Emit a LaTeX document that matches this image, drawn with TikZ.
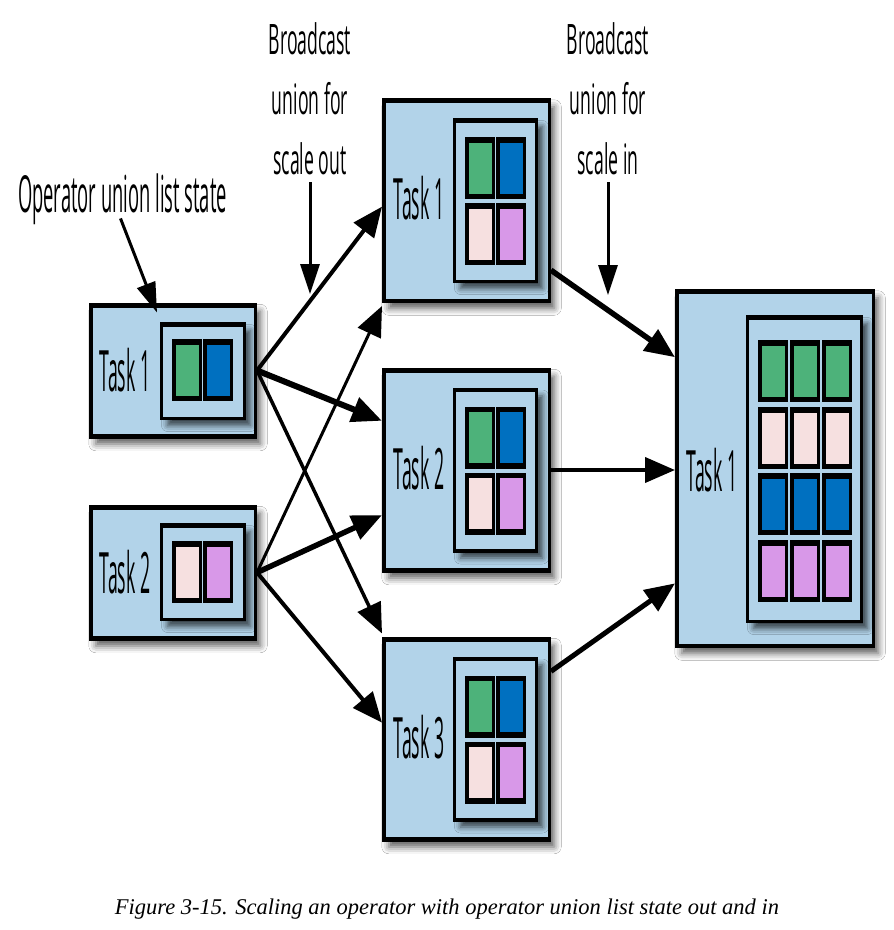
\documentclass[tikz,border=0pt]{standalone}
\usepackage{fontspec}
\usetikzlibrary{arrows.meta,calc,shadows.blur}
\setmainfont{Liberation Serif}
\newfontfamily\taskfont[FakeStretch=0.31]{Open Sans}
\newfontfamily\opsfont[FakeStretch=0.36]{Open Sans}
\newfontfamily\notefont[FakeStretch=0.42]{Open Sans}

\definecolor{boxblue}{RGB}{178,211,233}
\definecolor{stgreen}{RGB}{77,178,122}
\definecolor{stblue}{RGB}{0,112,192}
\definecolor{stpink}{RGB}{246,224,224}
\definecolor{stviolet}{RGB}{216,152,232}

% one state entry: black frame with a coloured face
\newcommand{\statecell}[3]{%
  \fill[black] (#1,#2) rectangle ++(30,62);
  \fill[#3] ($(#1,#2)+(3.5,5.5)$) rectangle ++(23,51);
}

\tikzset{
  taskbox/.style={draw=black, line width=3.5pt, fill=boxblue, inner sep=0pt,
    blur shadow={shadow xshift=5pt, shadow yshift=-7pt, shadow blur radius=7pt, shadow opacity=65},
    path picture={
      \fill[black] (path picture bounding box.north west) rectangle ([yshift=-3.5pt]path picture bounding box.north east);
      \fill[black] (path picture bounding box.south west) rectangle ([yshift=2.5pt]path picture bounding box.south east);
    }},
  statebox/.style={draw=black, line width=3pt, fill=boxblue, inner sep=0pt,
    blur shadow={shadow xshift=6pt, shadow yshift=-7pt, shadow blur radius=6pt, shadow opacity=70},
    path picture={
      \fill[black] (path picture bounding box.north west) rectangle ([yshift=-3pt]path picture bounding box.north east);
      \fill[black] (path picture bounding box.south west) rectangle ([yshift=2pt]path picture bounding box.south east);
    }},
  tasklbl/.style={inner sep=0pt, font=\taskfont\fontsize{57}{60}\selectfont},
  notelbl/.style={inner sep=0pt, align=center, font=\notefont\fontsize{42}{60}\selectfont},
  notearrow/.style={line width=3pt, -{Triangle[length=30pt,width=19pt]}},
  flow/.style={line width=#1, -{Triangle[length=30pt,width=25pt]}},
  flow/.default=4.5pt
}

\begin{document}
\begin{tikzpicture}[x=1pt,y=-1pt]
\useasboundingbox[fill=white] (0,0) rectangle (894,930);

% ---- two tasks before scaling out
\node[taskbox, minimum width=164.5pt, minimum height=132.5pt] (l1) at (173,370.5) {};
\node[statebox, minimum width=83pt, minimum height=95pt] (l1s) at (203,371) {};
\statecell{172}{339}{stgreen}
\statecell{203}{339}{stblue}
\node[tasklbl] (l1t) at (125,370) {Task 1};

\node[taskbox, minimum width=164.5pt, minimum height=132.5pt] (l2) at (173,572.5) {};
\node[statebox, minimum width=83pt, minimum height=95pt] (l2s) at (203,572) {};
\statecell{172}{541}{stpink}
\statecell{203}{541}{stviolet}
\node[tasklbl] (l2t) at (125,572) {Task 2};

% ---- three tasks after scaling out
\foreach \nm/\cy/\lbl in {m1/200.5/Task 1, m2/470/Task 2, m3/739/Task 3}{
  \node[taskbox, minimum width=165.5pt, minimum height=201.5pt] (\nm) at (466.5,\cy) {};
  \node[statebox, minimum width=82pt, minimum height=162pt] (\nm s) at (495.5,\cy) {};
  \statecell{465}{\cy-63.5}{stgreen}
  \statecell{496}{\cy-63.5}{stblue}
  \statecell{465}{\cy+2.5}{stpink}
  \statecell{496}{\cy+2.5}{stviolet}
  \node[tasklbl] (\nm t) at (419,\cy-2) {\lbl};
}

% ---- single task after scaling in
\node[taskbox, minimum width=196.5pt, minimum height=355.5pt] (r) at (775,468.5) {};
\node[statebox, minimum width=114pt, minimum height=305pt] (rs) at (804.5,469) {};
\foreach \ry/\col in {340/stgreen, 407/stpink, 473/stblue, 540/stviolet}{
  \foreach \rx in {758,790,822}{
    \statecell{\rx}{\ry}{\col}
  }
}
\node[tasklbl] (rt) at (712,470) {Task 1};

% ---- annotations
\node[inner sep=0pt, anchor=base, font=\opsfont\fontsize{51}{56}\selectfont] (ops) at (122.5,212) {Operator union list state};
\node[notelbl, anchor=south] (bso) at (310,175) {Broadcast\\union for\\scale out};
\node[notelbl, anchor=south] (bsi) at (608,175) {Broadcast\\union for\\scale in};
\coordinate (bsoend) at (310,294);
\coordinate (bsiend) at (608,295);

\draw[notearrow] ($(ops.south)+(-2,-6)$) -- ($(l1.north west)+(68,10)$);
\draw[notearrow] ($(bso.south)+(0,7)$) -- (bsoend);
\draw[notearrow] ($(bsi.south)+(0,7)$) -- (bsiend);

% ---- broadcast on scale out
\draw[flow=4pt] (l1.east) -- ($(m1.north west)!0.53!(m1.south west)$);
\draw[flow=6pt] (l1.east) -- ($(m2.north west)!0.26!(m2.south west)$);
\draw[flow=3.5pt] (l1.east) -- ($(m3.north west)+(0,-3)$);
\draw[flow=3pt] (l2.east) -- ($(m1.south west)+(0,3)$);
\draw[flow=5.5pt] (l2.east) -- ($(m2.north west)!0.72!(m2.south west)$);
\draw[flow=4pt] (l2.east) -- ($(m3.north west)!0.42!(m3.south west)$);

% ---- broadcast on scale in
\draw[flow=5.5pt] ($(m1.north east)!0.84!(m1.south east)$) -- ($(r.north west)!0.19!(r.south west)$);
\draw[flow=4pt] (m2.east) -- (m2.east -| r.west);
\draw[flow=5pt] ($(m3.north east)!0.17!(m3.south east)$) -- ($(r.north west)!0.82!(r.south west)$);

% ---- caption
\node[inner sep=0pt, font=\itshape\fontsize{22.5}{26}\selectfont] (cap) at (447,909) {Figure 3-15. Scaling an operator with operator union list state out and in};
\end{tikzpicture}
\end{document}
